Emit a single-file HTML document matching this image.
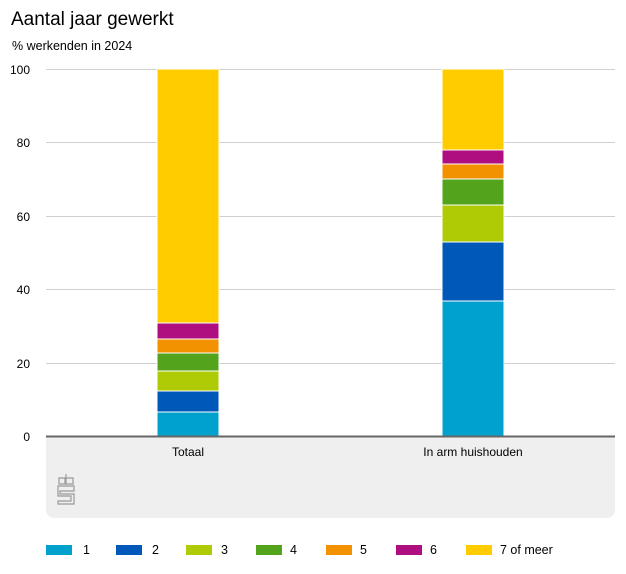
<!DOCTYPE html>
<html><head><style>body{margin:0;background:#fff}svg{display:block}</style></head><body>
<svg width="626" height="574" xmlns="http://www.w3.org/2000/svg" font-family="Liberation Sans, Arial, sans-serif">
<text x="11" y="25" font-size="19" fill="#000">Aantal jaar gewerkt</text>
<text x="12" y="50" font-size="12.5" fill="#000">% werkenden in 2024</text>
<path d="M46 437 H615 V510 a8 8 0 0 1 -8 8 H54 a8 8 0 0 1 -8 -8 Z" fill="#efefef"/>
<g stroke="#d0d0d0" stroke-width="1">
<line x1="46" x2="615" y1="69.5" y2="69.5"/><line x1="46" x2="615" y1="142.5" y2="142.5"/>
<line x1="46" x2="615" y1="216.5" y2="216.5"/><line x1="46" x2="615" y1="289.5" y2="289.5"/>
<line x1="46" x2="615" y1="363.5" y2="363.5"/>
</g>
<g font-size="12" fill="#000" text-anchor="end">
<text x="30" y="74">100</text><text x="30" y="147">80</text><text x="30" y="221">60</text>
<text x="30" y="294">40</text><text x="30" y="368">20</text><text x="30" y="441">0</text>
</g>
<g stroke="#fff" stroke-width="1">
<rect x="157" y="69" width="62" height="254" fill="#ffcc00"/>
<rect x="157" y="323" width="62" height="16" fill="#af0e80"/>
<rect x="157" y="339" width="62" height="14" fill="#f39200"/>
<rect x="157" y="353" width="62" height="18" fill="#53a31d"/>
<rect x="157" y="371" width="62" height="20" fill="#afcb05"/>
<rect x="157" y="391" width="62" height="21" fill="#0058b8"/>
<rect x="157" y="412" width="62" height="24" fill="#00a1cd"/>
<rect x="442" y="69" width="62" height="81" fill="#ffcc00"/>
<rect x="442" y="150" width="62" height="14" fill="#af0e80"/>
<rect x="442" y="164" width="62" height="15" fill="#f39200"/>
<rect x="442" y="179" width="62" height="26" fill="#53a31d"/>
<rect x="442" y="205" width="62" height="37" fill="#afcb05"/>
<rect x="442" y="242" width="62" height="59" fill="#0058b8"/>
<rect x="442" y="301" width="62" height="135" fill="#00a1cd"/>
</g>
<line x1="46" x2="615" y1="436.5" y2="436.5" stroke="#666" stroke-width="2"/>
<g font-size="12" fill="#000" text-anchor="middle">
<text x="188" y="456">Totaal</text><text x="473" y="456">In arm huishouden</text>
</g>
<g fill="none" stroke="#999" stroke-width="1.2">
<path d="M59 478 h6 v6 h-6 z M66 474 v10 h7 v-6 h-7 M58 486 h16 v5 h-14 v3 h14 v10 h-16 v-3 h13 v-5 h-13 z"/>
</g>
<g font-size="12.5" fill="#000">
<rect x="46" y="545" width="26" height="10" fill="#00a1cd"/><text x="83" y="554">1</text>
<rect x="116" y="545" width="26" height="10" fill="#0058b8"/><text x="152" y="554">2</text>
<rect x="186" y="545" width="26" height="10" fill="#afcb05"/><text x="221" y="554">3</text>
<rect x="256" y="545" width="26" height="10" fill="#53a31d"/><text x="290" y="554">4</text>
<rect x="326" y="545" width="26" height="10" fill="#f39200"/><text x="360" y="554">5</text>
<rect x="396" y="545" width="26" height="10" fill="#af0e80"/><text x="430" y="554">6</text>
<rect x="466" y="545" width="26" height="10" fill="#ffcc00"/><text x="500" y="554">7 of meer</text>
</g>
</svg>
</body></html>
